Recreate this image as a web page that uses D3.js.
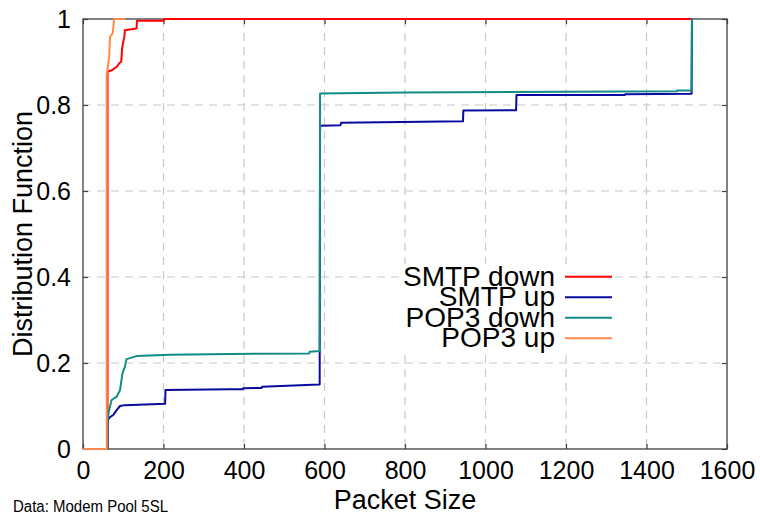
<!DOCTYPE html>
<html>
<head>
<meta charset="utf-8">
<script src="https://cdn.jsdelivr.net/npm/d3@7"></script>
<style>
  body { margin: 0; background: #fff; }
  text { font-family: "Liberation Sans", Arial, sans-serif; fill: #000; }
</style>
</head>
<body>
<svg id="chart" width="760" height="517"></svg>
<script>
// packet size (bytes) vs cumulative share
var smtpDownSize = [0, 61, 61, 65, 72, 84, 90, 95, 97, 100, 103, 104, 120, 133, 134, 200, 202, 1514]
var smtpDownCdf  = [0, 0, 0.877, 0.879, 0.881, 0.889, 0.897, 0.901, 0.93, 0.947, 0.96, 0.974, 0.976, 0.978, 0.996, 0.996, 1, 1]

var smtpUpSize = [0, 61, 61, 67, 75, 84, 92, 104, 204, 205, 365, 397, 398, 444, 445, 586, 588, 589, 640, 641, 944, 945, 1076, 1077, 1346, 1347, 1512, 1513, 1514]
var smtpUpCdf  = [0, 0, 0.067, 0.074, 0.079, 0.091, 0.100, 0.102, 0.105, 0.137, 0.139, 0.139, 0.141, 0.142, 0.145, 0.150, 0.150, 0.752, 0.753, 0.759, 0.762, 0.787, 0.788, 0.823, 0.823, 0.825, 0.826, 1, 1]

var pop3DownSize = [0, 61, 61, 63, 65, 71, 84, 92, 98, 104, 108, 133, 216, 365, 562, 563, 588, 589, 800, 1200, 1475, 1476, 1512, 1513, 1514]
var pop3DownCdf  = [0, 0, 0.067, 0.08, 0.091, 0.114, 0.122, 0.137, 0.176, 0.191, 0.209, 0.216, 0.219, 0.221, 0.222, 0.226, 0.228, 0.827, 0.829, 0.831, 0.832, 0.834, 0.834, 1, 1]

var pop3UpSize = [0, 59, 59, 62, 65, 67, 70, 74, 77, 78, 104]
var pop3UpCdf  = [0, 0, 0.872, 0.89, 0.912, 0.959, 0.962, 0.967, 0.998, 1, 1]

var seriesNames = ['SMTP down', 'SMTP up', 'POP3 down', 'POP3 up']
var seriesColors = ['#ff0000', '#0a0aa0', '#138c87', '#ff8a4a']
var xTicks = [0, 200, 400, 600, 800, 1000, 1200, 1400, 1600]
var yTicks = [0, 0.2, 0.4, 0.6, 0.8, 1]

var margin = {left: 83, top: 19, right: 33, bottom: 68}
var W = 760 - margin.left - margin.right
var H = 517 - margin.top - margin.bottom

var svg = d3.select('#chart')
var g = svg.append('g').attr('transform', 'translate(' + margin.left + ',' + margin.top + ')')

var x = d3.scaleLinear().domain([0, 1600]).range([0, W])
var y = d3.scaleLinear().domain([0, 1]).range([H, 0])

// grid
g.append('g').selectAll('line').data(xTicks.slice(1, -1)).enter().append('line')
    .attr('x1', d => x(d)).attr('x2', d => x(d)).attr('y1', 0).attr('y2', H)
    .attr('stroke', '#c8c8c8').attr('stroke-width', 1.2).attr('stroke-dasharray', '8,6')
g.append('g').selectAll('line').data(yTicks.slice(1, -1)).enter().append('line')
    .attr('y1', d => y(d)).attr('y2', d => y(d)).attr('x1', 0).attr('x2', W)
    .attr('stroke', '#c8c8c8').attr('stroke-width', 1.2).attr('stroke-dasharray', '8,6')

// frame + inward ticks on all sides
g.append('rect').attr('width', W).attr('height', H)
    .attr('fill', 'none').attr('stroke', '#404040').attr('stroke-width', 1.3)

var xb = g.append('g').attr('transform', 'translate(0,' + H + ')')
    .call(d3.axisBottom(x).tickValues(xTicks).tickSizeInner(-5).tickSizeOuter(0).tickPadding(12).tickFormat(d3.format('d')))
var xt = g.append('g').call(d3.axisTop(x).tickValues(xTicks).tickSizeInner(-5).tickSizeOuter(0).tickFormat(''))
var yl = g.append('g')
    .call(d3.axisLeft(y).tickValues(yTicks).tickSizeInner(-5).tickSizeOuter(0).tickPadding(12).tickFormat(d => String(+d.toFixed(1))))
var yr = g.append('g').attr('transform', 'translate(' + W + ',0)')
    .call(d3.axisRight(y).tickValues(yTicks).tickSizeInner(-5).tickSizeOuter(0).tickFormat(''))

;[xb, xt, yl, yr].forEach(function (a) {
    a.select('.domain').remove()
    a.selectAll('line').attr('stroke', '#404040').attr('stroke-width', 1.2)
    a.selectAll('text').style('font-size', '25px').attr('fill', '#000')
})
xb.selectAll('text').attr('dy', '0.71em')

// curves
var line = d3.line().x(d => x(d[0])).y(d => y(d[1]))
var series = [
    d3.zip(smtpDownSize, smtpDownCdf),
    d3.zip(smtpUpSize, smtpUpCdf),
    d3.zip(pop3DownSize, pop3DownCdf),
    d3.zip(pop3UpSize, pop3UpCdf)
]
g.selectAll('path.curve').data(series).enter().append('path')
    .attr('class', 'curve')
    .attr('d', line)
    .attr('fill', 'none')
    .attr('stroke', (d, i) => seriesColors[i])
    .attr('stroke-width', 2)
    .attr('stroke-linejoin', 'round')

// legend
var lg = svg.append('g')
lg.append('rect').attr('x', 399).attr('y', 264).attr('width', 216).attr('height', 86).attr('fill', '#fff')
var rows = lg.selectAll('g').data(seriesNames).enter().append('g')
    .attr('transform', (d, i) => 'translate(0,' + (276.7 + i * 20.5) + ')')
rows.append('text').attr('x', 555).attr('y', 9)
    .attr('text-anchor', 'end').style('font-size', '28px').text(d => d)
rows.append('line').attr('x1', 565).attr('x2', 612)
    .attr('stroke', (d, i) => seriesColors[i]).attr('stroke-width', 2)

// labels
svg.append('text').attr('x', margin.left + W / 2).attr('y', 509)
    .attr('text-anchor', 'middle').style('font-size', '27px').text('Packet Size')
svg.append('text').attr('transform', 'translate(32,234) rotate(-90)')
    .attr('text-anchor', 'middle').style('font-size', '27px').text('Distribution Function')
svg.append('text').attr('x', 13).attr('y', 512)
    .attr('textLength', 155).attr('lengthAdjust', 'spacingAndGlyphs')
    .style('font-size', '16px').text('Data: Modem Pool 5SL')
</script>
</body>
</html>
